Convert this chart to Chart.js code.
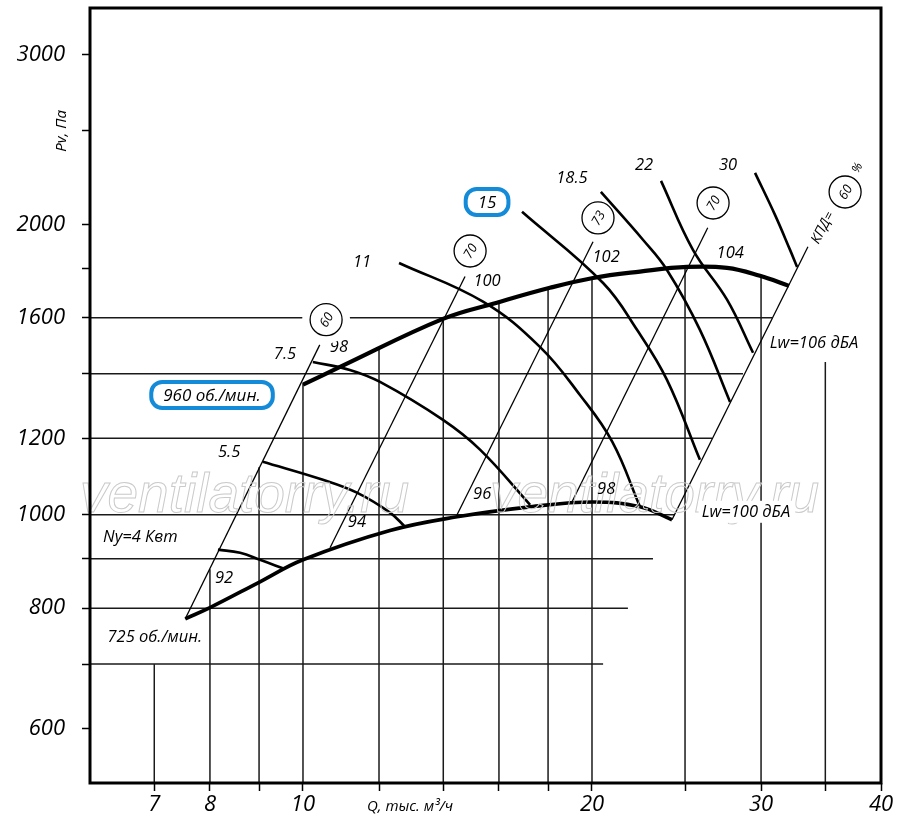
<!DOCTYPE html>
<html>
<head>
<meta charset="utf-8">
<script src="https://cdn.jsdelivr.net/npm/chart.js@4/dist/chart.umd.min.js"></script>
<style>
  html, body { margin: 0; padding: 0; background: #fff; }
  #wrap { width: 900px; height: 831px; }
</style>
</head>
<body>
<div id="wrap"><canvas id="fanChart" width="900" height="831"></canvas></div>
<script>
// axis ticks
const xTicks = [7, 8, 9, 10, 12, 14, 16, 18, 20, 25, 30, 35, 40];
const xLabels = [7, 8, 10, 20, 30, 40];
const yTicks = [600, 700, 800, 900, 1000, 1200, 1400, 1600, 1800, 2000, 2500, 3000];
const yLabels = [600, 800, 1000, 1200, 1600, 2000, 3000];

// partial grid lines: horizontal (P, end Q) and vertical (Q, top P)
const gridP = [700, 800, 900, 1000, 1200, 1400, 1600];
const gridPEnd = [20.54, 21.8, 23.15, 24.4, 26.67, 28.73, 30.8];
const gridQ = [7, 8, 9, 10, 12, 14, 16, 18, 20, 25, 30, 35];
const gridQTop = [700, 878, 1120, 1368, 1490, 1596, 1662, 1717, 1760, 1806, 1768, 1440];

// fan speed curves
const q960 = [10, 10.93, 13.99, 15.92, 18.08, 20.05, 22.44, 25.12, 27.65, 29.92, 32.08];
const p960 = [1364, 1423, 1596, 1659, 1719, 1760, 1787, 1807, 1803, 1769, 1727];
const q725 = [7.54, 8.0, 9.02, 10, 12.32, 14.47, 17.24, 20.05, 22.44, 24.23];
const p725 = [780, 801, 852, 898, 963, 995, 1019, 1031, 1019, 988];

// power curves, kW
const qN4 = [8.155, 8.60, 9.02, 9.555];
const pN4 = [920, 913, 898, 879];
const qN5 = [9.08, 10.49, 11.38, 12.32, 12.77];
const pN5 = [1135, 1087, 1054, 1005, 972];
const qN7 = [10.24, 11.19, 12.03, 13.99, 15.29, 17.24];
const pN7 = [1440, 1413, 1373, 1254, 1168, 1024];
const qN11 = [12.59, 15.40, 17.65, 19.43, 21.0, 22.44];
const pN11 = [1824, 1663, 1493, 1331, 1190, 1019];
const qN15 = [16.91, 20.54, 22.28, 23.94, 25.91];
const pN15 = [2061, 1739, 1555, 1380, 1140];
const qN18 = [20.43, 22.60, 23.94, 25.91, 27.85];
const pN18 = [2161, 1928, 1794, 1555, 1309];
const qN22 = [23.60, 25.48, 27.65, 29.43];
const pN22 = [2219, 1882, 1671, 1472];
const qN30 = [29.57, 31.02, 32.16, 32.71];
const pN30 = [2262, 2046, 1882, 1807];

// efficiency lines (КПД)
const effNames = ['60', '70', '73', '70', '60'];
const effQ = [[7.54, 10.41], [10.67, 14.75], [14.47, 20.05], [19.06, 26.4], [24.23, 33.57]];
const effP = [[780, 1500], [924, 1766], [1000, 1919], [1031, 1984], [988, 1896]];
const effCircleQ = [10.57, 14.93, 20.29, 26.74, 36.7];
const effCircleP = [1593, 1877, 2031, 2105, 2161];

// text labels
const labelText = ['Ny=4 Квт', '5.5', '7.5', '11', '18.5', '22', '30',
  '92', '94', '96', '98', '98', '100', '102', '104',
  'Lw=106 дБА', 'Lw=100 дБА', '725 об./мин.'];
const labelQ = [6.77, 8.376, 9.578, 11.52, 19.06, 22.66, 27.72,
  8.275, 11.38, 15.37, 20.69, 10.9, 15.55, 20.69, 27.86,
  34.06, 28.93, 7.01];
const labelP = [947, 1162, 1465, 1829, 2235, 2305, 2305,
  860, 981, 1049, 1062, 1490, 1748, 1851, 1868,
  1507, 1007, 746];
const labelBg = [15, 16, 17];

const boxText = ['15', '960 об./мин.'];
const boxQ = [15.55, 8.04];
const boxP = [2110, 1331];

const FONT = '"Open Sans", "DejaVu Sans", sans-serif';

function curve(qs, ps, w) {
  return {
    data: qs.map((q, i) => ({ x: q, y: ps[i] })),
    showLine: true, borderColor: '#000', borderWidth: w,
    pointRadius: 0, tension: 0.4, fill: false
  };
}
function straight(qs, ps, w, color) {
  return {
    data: qs.map((q, i) => ({ x: q, y: ps[i] })),
    showLine: true, borderColor: color || '#000', borderWidth: w,
    pointRadius: 0, tension: 0, fill: false
  };
}

const X_MIN = 6.0, X_MAX = 40, Y_MIN = 527, Y_MAX = 3353;

const datasets = [];
datasets.push(curve(q960, p960, 4.2));
datasets.push(curve(q725, p725, 3.6));
[[qN4, pN4], [qN5, pN5], [qN7, pN7], [qN11, pN11], [qN15, pN15], [qN18, pN18], [qN22, pN22], [qN30, pN30]]
  .forEach(([q, p]) => datasets.push(curve(q, p, 2.6)));
effQ.forEach((q, i) => datasets.push(straight(q, effP[i], 1.3)));
gridP.forEach((p, i) => datasets.push(straight([X_MIN, gridPEnd[i]], [p, p], 1.5, '#1a1a1a')));
gridQ.forEach((q, i) => datasets.push(straight([q, q], [Y_MIN, gridQTop[i]], 1.5, '#1a1a1a')));

const overlay = {
  id: 'overlay',
  afterDatasetsDraw(chart) {
    const { ctx, chartArea: a, scales: { x, y } } = chart;
    const px = q => x.getPixelForValue(q);
    const py = p => y.getPixelForValue(p);
    ctx.save();

    // watermark
    ctx.font = 'italic 55px "Liberation Sans", sans-serif';
    ctx.strokeStyle = '#cacaca';
    ctx.lineWidth = 1;
    ctx.textAlign = 'left';
    ctx.textBaseline = 'alphabetic';
    const wy = py(1000) - 3;
    ctx.strokeText('ventilatorry.ru', a.left - 10, wy);
    ctx.strokeText('ventilatorry.ru', a.left + 400, wy);

    // labels
    ctx.fillStyle = '#000';
    ctx.textAlign = 'center';
    ctx.textBaseline = 'middle';
    labelText.forEach((t, i) => {
      const cx = px(labelQ[i]), cy = py(labelP[i]);
      ctx.font = 'italic 16.5px ' + FONT;
      if (labelBg.includes(i)) {
        const w = ctx.measureText(t).width;
        ctx.fillStyle = '#fff';
        ctx.fillRect(cx - w / 2 - 3, cy - 11, w + 8, 22);
        ctx.fillStyle = '#000';
      }
      ctx.fillText(t, cx, cy);
    });

    // blue boxed labels
    boxText.forEach((t, i) => {
      const cx = px(boxQ[i]), cy = py(boxP[i]);
      ctx.font = 'italic 17px ' + FONT;
      const w = ctx.measureText(t).width + 24;
      const h = 26;
      ctx.beginPath();
      ctx.roundRect(cx - w / 2, cy - h / 2, w, h, 11);
      ctx.fillStyle = '#fff';
      ctx.fill();
      ctx.lineWidth = 4;
      ctx.strokeStyle = '#138bd8';
      ctx.stroke();
      ctx.fillStyle = '#000';
      ctx.fillText(t, cx, cy + 1);
    });

    // efficiency circles
    effNames.forEach((t, i) => {
      const cx = px(effCircleQ[i]), cy = py(effCircleP[i]);
      ctx.fillStyle = '#fff';
      if (i === 0) {
        ctx.beginPath();
        ctx.arc(cx, cy, 24, 0, Math.PI * 2);
        ctx.fill();
      }
      ctx.beginPath();
      ctx.arc(cx, cy, 16, 0, Math.PI * 2);
      ctx.fill();
      ctx.lineWidth = 1.3;
      ctx.strokeStyle = '#000';
      ctx.stroke();
      ctx.save();
      ctx.translate(cx, cy);
      ctx.rotate(-Math.PI / 3);
      ctx.fillStyle = '#000';
      ctx.font = 'italic 13px ' + FONT;
      ctx.fillText(t, 0, 1);
      ctx.restore();
    });
    ctx.fillStyle = '#000';

    // КПД= and %
    ctx.save();
    ctx.translate(px(34.8), py(1984));
    ctx.rotate(-62 * Math.PI / 180);
    ctx.font = 'italic 14px ' + FONT;
    ctx.fillText('КПД=', 0, 0);
    ctx.restore();
    ctx.save();
    ctx.translate(px(37.8), py(2289));
    ctx.rotate(-62 * Math.PI / 180);
    ctx.font = 'italic 12px ' + FONT;
    ctx.fillText('%', 0, 0);
    ctx.restore();

    // frame
    ctx.lineWidth = 3;
    ctx.strokeStyle = '#000';
    ctx.strokeRect(a.left, a.top, a.right - a.left, a.bottom - a.top);

    // axis titles
    ctx.font = 'italic 15px ' + FONT;
    ctx.fillText('Q, тыс. м³/ч', a.left + 320, a.bottom + 24);
    ctx.save();
    ctx.translate(62, py(2500));
    ctx.rotate(-Math.PI / 2);
    ctx.fillText('Pv, Па', 0, 0);
    ctx.restore();

    ctx.restore();
  }
};

new Chart(document.getElementById('fanChart'), {
  type: 'scatter',
  data: { datasets },
  plugins: [overlay],
  options: {
    responsive: false,
    animation: false,
    devicePixelRatio: 1,
    layout: { padding: { top: 8, right: 19, left: 0, bottom: 0 } },
    plugins: { legend: { display: false }, tooltip: { enabled: false } },
    scales: {
      x: {
        type: 'logarithmic', min: X_MIN, max: X_MAX,
        afterBuildTicks: s => { s.ticks = xTicks.map(v => ({ value: v })); },
        afterFit: s => { s.height = 48; s.paddingLeft = 0; s.paddingRight = 0; },
        grid: { drawOnChartArea: false, drawTicks: true, tickLength: 8, tickColor: '#000', tickWidth: 1.5 },
        border: { display: false },
        ticks: {
          autoSkip: false, maxRotation: 0, padding: 1, color: '#000',
          font: { family: FONT, size: 22, style: 'italic' },
          callback: v => xLabels.includes(v) ? String(v) : ''
        }
      },
      y: {
        type: 'logarithmic', min: Y_MIN, max: Y_MAX,
        afterBuildTicks: s => { s.ticks = yTicks.map(v => ({ value: v })); },
        afterFit: s => { s.width = 90; s.paddingTop = 0; s.paddingBottom = 0; },
        grid: { drawOnChartArea: false, drawTicks: true, tickLength: 8, tickColor: '#000', tickWidth: 1.5 },
        border: { display: false },
        ticks: {
          autoSkip: false, padding: 17, color: '#000',
          font: { family: FONT, size: 22, style: 'italic' },
          callback: v => yLabels.includes(v) ? String(v) : ''
        }
      }
    }
  }
});
</script>
</body>
</html>
